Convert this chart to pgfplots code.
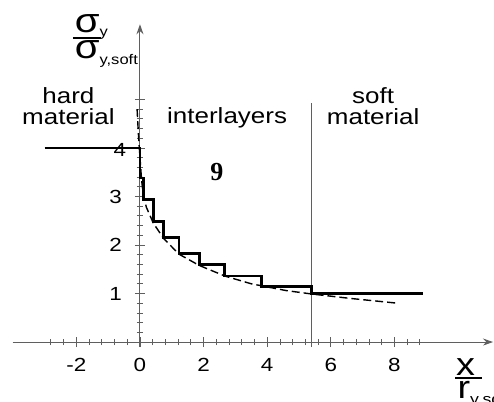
\documentclass[border=0pt]{standalone}
\usepackage{pgfplots}
\pgfplotsset{compat=1.18}
\usepackage{fontspec}
\setmainfont{Liberation Sans}[FakeStretch=1.18]
\newfontfamily\serifnine{Liberation Serif}
\usetikzlibrary{arrows.meta}

\definecolor{axgray}{RGB}{95,95,95}

\begin{document}
\begin{tikzpicture}
\begin{axis}[
  x=15.9pt, y=24.25pt,
  xmin=-4.0, xmax=11.1,
  ymin=-0.1, ymax=6.55,
  axis lines=middle,
  axis line style={axgray, line width=0.5pt, -{Stealth[length=5pt,width=3.5pt]}},
  clip=false,
  hide obscured x ticks=false,
  xtick={-2,0,2,4,6,8},
  xticklabels={-2,0,2,4,6,8},
  minor xtick={-2.8,-2.4,-1.6,-1.2,-0.8,-0.4,0.4,0.8,1.2,1.6,2.4,2.8,3.2,3.6,4.4,4.8,5.2,5.6,6.4,6.8,7.2,7.6,8.4,8.8},
  ytick={1,2,3,4,5},
  yticklabels={1,2,3,{},{}},
  minor ytick={0.2,0.4,0.6,0.8,1.2,1.4,1.6,1.8,2.2,2.4,2.6,2.8,3.2,3.4,3.6,3.8,4.2,4.4,4.6,4.8},
  tick align=center,
  major tick length=5pt,
  minor tick length=3pt,
  tick style={axgray, line width=0.4pt},
  xticklabel style={font=\fontsize{9.5}{10}\selectfont, yshift=-2pt},
  yticklabel style={font=\fontsize{9.5}{10}\selectfont, anchor=east, xshift=-3pt},
]
% tick label 4, set by hand so that the level line runs over it
\node[inner sep=0pt, anchor=center, font=\fontsize{9.5}{10}\selectfont] at (axis cs:-0.63,3.96) {4};
% dashed reference curve
\addplot[black, line width=0.7pt, dash pattern=on 4pt off 2pt] coordinates {
  (-0.09,4.8) (-0.05,4.3) (0,3.8) (0.05,3.35) (0.1,3.05) (0.2,2.78)
  (0.42,2.45) (0.75,2.13) (1.23,1.81) (1.86,1.58) (2.67,1.36)
  (3.5,1.2) (4.6,1.06) (5.4,0.99) (6.6,0.9) (8.1,0.8)
};
% layer boundary
\addplot[axgray, line width=0.6pt] coordinates {(5.38,-0.1) (5.38,4.93)};
% stepped profile
\addplot[black, line width=1.4pt, line join=miter] coordinates {
  (-3,4) (0,4) (0,3.38) (0.1,3.38) (0.1,2.93) (0.42,2.93) (0.42,2.49)
  (0.75,2.49) (0.75,2.16) (1.23,2.16) (1.23,1.83) (1.86,1.83) (1.86,1.59)
  (2.67,1.59) (2.67,1.36) (3.83,1.36) (3.83,1.15) (5.38,1.15) (5.38,1.0)
  (8.9,1.0)
};

\node[align=center, font=\fontsize{11}{10.5}\selectfont] at (axis cs:-2.25,4.86) {hard\\material};
\node[font=\fontsize{11}{10.5}\selectfont] at (axis cs:2.74,4.62) {interlayers};
\node[align=center, font=\fontsize{11}{10.5}\selectfont] at (axis cs:7.33,4.86) {soft\\material};
\node[font=\serifnine\bfseries\fontsize{13}{13}\selectfont] at (axis cs:2.42,3.51) {9};

% y label: sigma_y / sigma_y,soft
\node[inner sep=0pt, anchor=base west, font=\fontsize{17}{17}\selectfont] at (axis cs:-2.06,6.37)
  {σ\raisebox{-2pt}{\fontsize{7}{7}\selectfont y}};
\draw[black, line width=0.9pt] (axis cs:-2.11,6.27) -- (axis cs:-1.23,6.27);
\node[inner sep=0pt, anchor=base west, font=\fontsize{17}{17}\selectfont] at (axis cs:-2.06,5.84)
  {σ\raisebox{-3pt}{\fontsize{7}{7}\selectfont y,soft}};

% x label: x / r_y,soft
\node[inner sep=0pt, anchor=base west, font=\fontsize{16}{16}\selectfont] at (axis cs:9.93,-0.68) {x};
\draw[black, line width=0.9pt] (axis cs:9.91,-0.742) -- (axis cs:10.75,-0.742);
\node[inner sep=0pt, anchor=base west, font=\fontsize{16}{16}\selectfont] at (axis cs:9.97,-1.16)
  {r\raisebox{-3pt}{\fontsize{7.5}{7.5}\selectfont y,soft}};

\coordinate (bl) at (axis cs:-4.40,-1.216);
\coordinate (tr) at (axis cs:11.13,7.05);
\end{axis}
\pgfresetboundingbox
\path[use as bounding box] (bl) rectangle (tr);
\end{tikzpicture}
\end{document}
